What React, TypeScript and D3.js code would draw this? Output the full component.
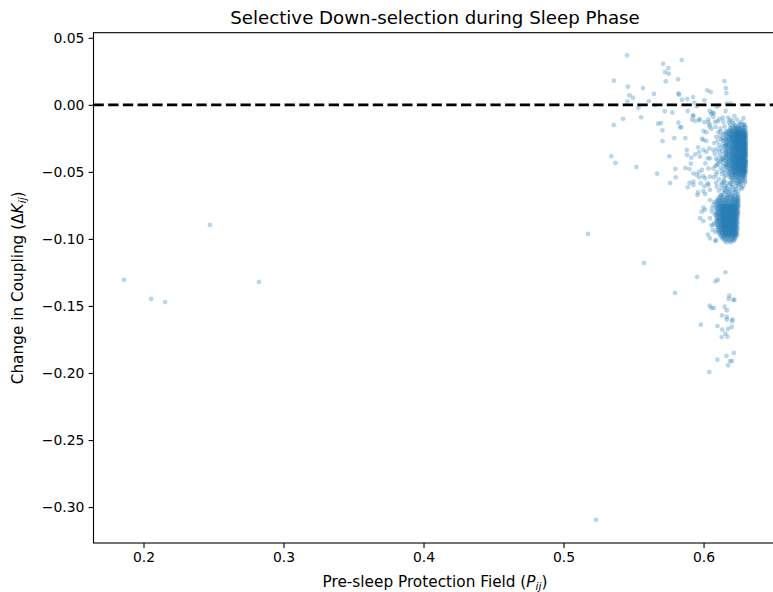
import React, { useEffect, useRef } from "react";
import * as d3 from "d3";

// Scatter: pre-sleep protection field vs change in coupling

// isolated points far from the main cloud
const outliers: [number, number][] = [
  [0.1861, -0.1306], [0.2054, -0.1448], [0.2154, -0.1471], [0.2475, -0.0896],
  [0.2825, -0.1321], [0.5175, -0.0963], [0.5232, -0.3096], [0.5575, -0.118],
  [0.5796, -0.1403],
];

// loose points around the zero line
const upperScatter: [number, number][] = [
  [0.5454, 0.0369], [0.5711, 0.0306], [0.5749, 0.0274], [0.5844, 0.0334],
  [0.5725, 0.0245], [0.5751, 0.0232], [0.5359, 0.018], [0.573, 0.0175],
  [0.5818, 0.019], [0.6149, 0.0177], [0.5459, 0.0135], [0.5568, 0.0125],
  [0.6159, 0.0125], [0.582, 0.0084], [0.5825, 0.0077], [0.6027, 0.0108],
  [0.6051, 0.0095], [0.6163, 0.0088], [0.5471, 0.0071], [0.5496, 0.0053],
  [0.5646, 0.0081], [0.5456, 0.0026], [0.5609, 0.0027], [0.5656, -0.0004],
  [0.5846, 0.0038], [0.5884, 0.0045], [0.5925, 0.0058], [0.6006, 0.0034],
  [0.5534, -0.0022], [0.5934, 0.0017], [0.5951, -0.001], [0.6104, -0.0004],
  [0.6094, -0.0014], [0.6166, 0.0008], [0.6194, 0.0008], [0.5723, -0.0048],
  [0.5777, -0.0057], [0.5887, -0.0046], [0.5924, -0.0078], [0.6044, -0.0046],
  [0.6063, -0.0056], [0.6073, -0.0063], [0.6054, -0.0071], [0.6157, -0.0046],
  [0.5425, -0.0104], [0.5554, -0.0093], [0.5973, -0.0106], [0.6034, -0.0108],
  [0.6113, -0.0106], [0.6137, -0.0096], [0.5359, -0.0151], [0.5675, -0.0141],
  [0.5696, -0.0136], [0.582, -0.0133], [0.5832, -0.0166], [0.5841, -0.0168],
  [0.5927, -0.0084], [0.5941, -0.0119], [0.5968, -0.0116], [0.6006, -0.013],
  [0.6034, -0.013], [0.6046, -0.0148], [0.6082, -0.0126], [0.6101, -0.0123],
  [0.6141, -0.0126], [0.618, -0.013], [0.6189, -0.0113], [0.6213, -0.0138],
  [0.5706, -0.019], [0.5791, -0.0248], [0.587, -0.0248], [0.5707, -0.027],
  [0.6001, -0.0195], [0.602, -0.0205], [0.5989, -0.0253], [0.602, -0.027],
  [0.6041, -0.0163], [0.6056, -0.018], [0.5999, -0.0262], [0.5961, -0.0317],
  [0.588, -0.0337], [0.5882, -0.0374], [0.5756, -0.0384], [0.5341, -0.0384],
  [0.537, -0.0434], [0.552, -0.0464], [0.5799, -0.0477], [0.5909, -0.0439],
  [0.587, -0.0471], [0.5899, -0.0479], [0.5941, -0.0369], [0.5968, -0.0352],
  [0.5999, -0.0337], [0.602, -0.035], [0.603, -0.0399], [0.6041, -0.0324],
  [0.607, -0.0337], [0.5975, -0.0387], [0.6013, -0.0436], [0.6034, -0.0474],
  [0.607, -0.0474], [0.6094, -0.0449], [0.6118, -0.0424], [0.6132, -0.0399],
  [0.6046, -0.0399], [0.5668, -0.0514], [0.5801, -0.0541], [0.5966, -0.0503],
  [0.5989, -0.0486], [0.597, -0.0541], [0.5999, -0.0531], [0.5927, -0.0511],
  [0.5951, -0.0523], [0.6011, -0.0548], [0.6046, -0.0536], [0.5761, -0.0583],
  [0.5899, -0.0583], [0.5927, -0.0598], [0.5887, -0.0615], [0.598, -0.0585],
  [0.6006, -0.0608], [0.603, -0.0585], [0.5961, -0.0652], [0.5999, -0.0643],
  [0.5927, -0.0573], [0.6034, -0.0598], [0.6046, -0.0635], [0.6094, -0.0611],
  [0.613, -0.0623], [0.6154, -0.0648], [0.5913, -0.0394], [0.5918, -0.0111],
  [0.607, -0.0089], [0.6261, -0.0175], [0.6225, -0.0175],
];

// medium-density edge of the upper cloud
const upperFringe: [number, number][] = [
  [0.6085, -0.0165], [0.612, -0.0178], [0.615, -0.016], [0.6105, -0.0205],
  [0.614, -0.022], [0.616, -0.0195], [0.609, -0.024], [0.6125, -0.0255],
  [0.6155, -0.027], [0.6075, -0.0285], [0.611, -0.03], [0.6145, -0.031],
  [0.6095, -0.033], [0.613, -0.0345], [0.616, -0.0355], [0.608, -0.0365],
  [0.6115, -0.038], [0.615, -0.0395], [0.61, -0.0415], [0.6135, -0.043],
  [0.616, -0.0445], [0.6085, -0.0455], [0.612, -0.047], [0.615, -0.0485],
  [0.6095, -0.05], [0.613, -0.0515], [0.616, -0.0525], [0.6075, -0.054],
  [0.611, -0.0555], [0.6145, -0.0565], [0.609, -0.058], [0.6125, -0.0595],
  [0.6155, -0.0605], [0.617, -0.062], [0.62, -0.06], [0.623, -0.061],
  [0.626, -0.0595], [0.6285, -0.0605], [0.6215, -0.0635], [0.625, -0.064],
  [0.618, -0.0655], [0.611, -0.064], [0.614, -0.066], [0.6275, -0.0625],
  [0.6135, -0.0585], [0.619, -0.059], [0.624, -0.0585], [0.616, -0.0645],
  [0.62, -0.0665], [0.623, -0.0655], [0.6125, -0.0675], [0.6185, -0.063],
  [0.6175, -0.0095], [0.6205, -0.012], [0.624, -0.011], [0.627, -0.013],
  [0.629, -0.0145], [0.6255, -0.014], [0.619, -0.015], [0.622, -0.0085],
  [0.6285, -0.01], [0.612, -0.02], [0.61, -0.027], [0.614, -0.029],
  [0.6125, -0.032], [0.609, -0.04], [0.614, -0.041], [0.6105, -0.044],
  [0.613, -0.049], [0.609, -0.052], [0.615, -0.054], [0.616, -0.03],
  [0.616, -0.038], [0.6155, -0.046], [0.6145, -0.025], [0.6295, -0.058],
  [0.6148, -0.0215], [0.6135, -0.0265], [0.6155, -0.0335], [0.614, -0.037],
  [0.6158, -0.0415], [0.6142, -0.0455], [0.615, -0.0505], [0.6128, -0.0405],
  [0.6118, -0.0235], [0.611, -0.035],
];

// points in the band between the two clouds
const midGap: [number, number][] = [
  [0.6145, -0.0575], [0.6172, -0.0582], [0.6205, -0.0612], [0.6248, -0.0602],
  [0.6268, -0.0615], [0.616, -0.061], [0.6188, -0.0645], [0.6222, -0.065],
  [0.6245, -0.0668], [0.615, -0.0632], [0.6176, -0.0672], [0.6208, -0.0685],
  [0.6232, -0.0628], [0.6198, -0.0578], [0.6262, -0.0575],
];

// dense core of the upper cloud, row by row: [deltaK, P values]
const upperCoreRows: [number, number[]][] = [
  [-0.015, [0.6225, 0.6262, 0.629]],
  [-0.0162, [0.6208, 0.6231, 0.6249, 0.6277, 0.6296]],
  [-0.0173, [0.6193, 0.6219, 0.624, 0.6255, 0.6281, 0.63]],
  [-0.0185, [0.6186, 0.6201, 0.6226, 0.6244, 0.6263, 0.6272, 0.6291]],
  [-0.0196, [0.6179, 0.6197, 0.6212, 0.6233, 0.6241, 0.6258, 0.6279, 0.6289, 0.6303]],
  [-0.0207, [0.6166, 0.6188, 0.6203, 0.6219, 0.6238, 0.625, 0.6266, 0.6284, 0.6298]],
  [-0.0219, [0.6172, 0.6181, 0.6209, 0.6224, 0.6231, 0.6253, 0.6271, 0.6279, 0.6294, 0.6304]],
  [-0.023, [0.6161, 0.6185, 0.6196, 0.6215, 0.6236, 0.6246, 0.6262, 0.6287, 0.63]],
  [-0.0241, [0.617, 0.619, 0.6204, 0.6227, 0.6241, 0.6257, 0.6268, 0.6283, 0.6297]],
  [-0.0252, [0.6158, 0.6178, 0.6199, 0.6211, 0.6233, 0.6249, 0.6264, 0.6276, 0.6292, 0.6303]],
  [-0.0264, [0.6166, 0.6183, 0.6206, 0.622, 0.6229, 0.6252, 0.6271, 0.6285, 0.6299]],
  [-0.0275, [0.6174, 0.6193, 0.6213, 0.6238, 0.6245, 0.626, 0.6279, 0.629, 0.6304]],
  [-0.0286, [0.6162, 0.6187, 0.6201, 0.6217, 0.6232, 0.6255, 0.6266, 0.6288, 0.6298]],
  [-0.0298, [0.6169, 0.6179, 0.6208, 0.6224, 0.6243, 0.6251, 0.6273, 0.6282, 0.6295, 0.6303]],
  [-0.0309, [0.6157, 0.6184, 0.6197, 0.6214, 0.6236, 0.6259, 0.6268, 0.6286, 0.63]],
  [-0.032, [0.6171, 0.619, 0.6211, 0.6228, 0.624, 0.6263, 0.6277, 0.6292, 0.6304]],
  [-0.0332, [0.6163, 0.6182, 0.6203, 0.6219, 0.6234, 0.6248, 0.627, 0.6283, 0.6297]],
  [-0.0343, [0.6176, 0.6195, 0.6209, 0.623, 0.6253, 0.6261, 0.628, 0.6294, 0.6302]],
  [-0.0354, [0.616, 0.6186, 0.6201, 0.6222, 0.6239, 0.6247, 0.6268, 0.6289, 0.6299]],
  [-0.0366, [0.6168, 0.618, 0.6207, 0.6215, 0.6237, 0.6256, 0.6274, 0.6285, 0.6303]],
  [-0.0377, [0.6173, 0.6193, 0.6212, 0.6227, 0.6244, 0.6262, 0.6279, 0.6293, 0.63]],
  [-0.0388, [0.6159, 0.6184, 0.6199, 0.6219, 0.6233, 0.6251, 0.627, 0.6287, 0.6304]],
  [-0.04, [0.6169, 0.619, 0.6206, 0.6225, 0.6242, 0.6258, 0.6266, 0.6282, 0.6297]],
  [-0.0411, [0.6177, 0.6196, 0.6213, 0.6231, 0.6249, 0.6263, 0.6278, 0.6291, 0.6302]],
  [-0.0422, [0.6164, 0.6186, 0.6202, 0.622, 0.6236, 0.6255, 0.6272, 0.6288, 0.63]],
  [-0.0434, [0.6172, 0.6192, 0.621, 0.6228, 0.6245, 0.6259, 0.6276, 0.6294, 0.6304]],
  [-0.0445, [0.6167, 0.6183, 0.6205, 0.6217, 0.6238, 0.6252, 0.6269, 0.6284, 0.6298]],
  [-0.0456, [0.6175, 0.6198, 0.6214, 0.6233, 0.6247, 0.6265, 0.6281, 0.6292, 0.6302]],
  [-0.0468, [0.617, 0.6189, 0.6207, 0.6224, 0.6241, 0.6258, 0.6273, 0.629, 0.63]],
  [-0.0479, [0.618, 0.6201, 0.6219, 0.6236, 0.6254, 0.6268, 0.6286, 0.6297]],
  [-0.049, [0.6174, 0.6194, 0.6212, 0.623, 0.6248, 0.6263, 0.6279, 0.6293, 0.6303]],
  [-0.0502, [0.6185, 0.6206, 0.6222, 0.6241, 0.6257, 0.6275, 0.6289, 0.63]],
  [-0.0513, [0.6179, 0.62, 0.6217, 0.6235, 0.6252, 0.627, 0.6284, 0.6296]],
  [-0.0524, [0.619, 0.6211, 0.6229, 0.6248, 0.6265, 0.6281, 0.6298]],
  [-0.0536, [0.6186, 0.6207, 0.6226, 0.6244, 0.6262, 0.6279, 0.6292]],
  [-0.0547, [0.6197, 0.6221, 0.624, 0.6259, 0.6276, 0.6294]],
  [-0.0558, [0.6204, 0.6233, 0.6255, 0.6283]],
  [-0.057, [0.6213, 0.6246, 0.6272, 0.6296]],
  [-0.0582, [0.6229, 0.6264]],
];

// darkest part of the upper cloud, between the rows above
const upperDenseRows: [number, number[]][] = [
  [-0.0202, [0.6215, 0.6243, 0.6262, 0.6288]],
  [-0.0225, [0.6198, 0.6221, 0.6249, 0.6268, 0.6291]],
  [-0.0247, [0.6203, 0.623, 0.6254, 0.6279, 0.6298]],
  [-0.027, [0.6197, 0.6225, 0.6244, 0.6266, 0.6289]],
  [-0.0292, [0.621, 0.6235, 0.6258, 0.6281, 0.63]],
  [-0.0315, [0.6201, 0.6222, 0.6248, 0.627, 0.6293]],
  [-0.0337, [0.6214, 0.6239, 0.6261, 0.6284, 0.6301]],
  [-0.036, [0.6196, 0.6227, 0.6251, 0.6273, 0.6295]],
  [-0.0383, [0.6206, 0.6233, 0.6257, 0.628, 0.6299]],
  [-0.0405, [0.6199, 0.6224, 0.6246, 0.6269, 0.6292]],
  [-0.0428, [0.6211, 0.6237, 0.626, 0.6283, 0.6301]],
  [-0.0451, [0.6204, 0.6229, 0.6253, 0.6276, 0.6296]],
  [-0.0474, [0.6213, 0.624, 0.6264, 0.6287]],
  [-0.0496, [0.622, 0.6247, 0.6271, 0.6293]],
  [-0.0519, [0.6228, 0.6258, 0.6284]],
  [-0.0213, [0.6232, 0.6257, 0.6281]],
  [-0.0236, [0.6226, 0.6252, 0.6276, 0.6296]],
  [-0.0258, [0.6237, 0.6262, 0.6287]],
  [-0.0281, [0.6228, 0.625, 0.6274, 0.6297]],
  [-0.0304, [0.6235, 0.6261, 0.6285]],
  [-0.0326, [0.6229, 0.6254, 0.6278, 0.6298]],
  [-0.0349, [0.624, 0.6265, 0.629]],
  [-0.0371, [0.6231, 0.6256, 0.6281, 0.63]],
  [-0.0394, [0.6238, 0.6262, 0.6287]],
  [-0.0417, [0.6227, 0.6252, 0.6276, 0.6297]],
  [-0.044, [0.6236, 0.626, 0.6285]],
  [-0.0462, [0.623, 0.6255, 0.6279, 0.6298]],
  [-0.0485, [0.6241, 0.6266, 0.6289]],
];

// points left of the lower cloud
const lowerFringe: [number, number][] = [
  [0.5956, -0.0673], [0.6011, -0.0665], [0.5999, -0.0767], [0.5987, -0.0797],
  [0.6011, -0.0784], [0.5975, -0.0846], [0.5999, -0.0867], [0.6046, -0.0996],
  [0.6089, -0.1008], [0.6046, -0.071], [0.607, -0.0747], [0.6059, -0.0797],
  [0.6046, -0.0846], [0.607, -0.0896], [0.6066, -0.0934], [0.6237, -0.071],
  [0.6249, -0.0747], [0.6075, -0.0725], [0.608, -0.082], [0.6078, -0.088],
  [0.6085, -0.095], [0.606, -0.077], [0.6055, -0.09],
];

// dense core of the lower cloud, row by row: [deltaK, P values]
const lowerCoreRows: [number, number[]][] = [
  [-0.0675, [0.6128, 0.6167, 0.6205, 0.6236]],
  [-0.0686, [0.6115, 0.6143, 0.6172, 0.619, 0.6221, 0.6247]],
  [-0.0698, [0.6107, 0.6129, 0.6152, 0.6165, 0.6188, 0.6213, 0.6232, 0.6249]],
  [-0.0709, [0.6099, 0.6121, 0.6138, 0.616, 0.6177, 0.6199, 0.6208, 0.6227, 0.6243]],
  [-0.072, [0.6093, 0.6112, 0.6131, 0.6146, 0.6169, 0.6185, 0.6204, 0.6219, 0.6238, 0.6251]],
  [-0.0731, [0.6102, 0.6118, 0.614, 0.6155, 0.6174, 0.6193, 0.6211, 0.623, 0.6245]],
  [-0.0742, [0.609, 0.6109, 0.6126, 0.6149, 0.6163, 0.6182, 0.62, 0.6216, 0.6225, 0.6242]],
  [-0.0754, [0.6097, 0.6115, 0.6135, 0.6144, 0.617, 0.6188, 0.6207, 0.6223, 0.6248]],
  [-0.0765, [0.6088, 0.6105, 0.6124, 0.6141, 0.6158, 0.6177, 0.6196, 0.6213, 0.6234, 0.6245]],
  [-0.0776, [0.6094, 0.6111, 0.613, 0.6152, 0.6165, 0.6184, 0.6202, 0.6221, 0.6239]],
  [-0.0787, [0.61, 0.6119, 0.6137, 0.6146, 0.6172, 0.6191, 0.6209, 0.6228, 0.6244]],
  [-0.0799, [0.6089, 0.6106, 0.6126, 0.6143, 0.6161, 0.618, 0.6197, 0.6216, 0.6233, 0.6249]],
  [-0.081, [0.6096, 0.6114, 0.6133, 0.6154, 0.6168, 0.6186, 0.6205, 0.6222, 0.624]],
  [-0.0821, [0.6091, 0.6108, 0.6122, 0.614, 0.6159, 0.6176, 0.6194, 0.6211, 0.6229, 0.6246]],
  [-0.0832, [0.6101, 0.6117, 0.6135, 0.6148, 0.6166, 0.6183, 0.6201, 0.6219, 0.6236]],
  [-0.0844, [0.6093, 0.6112, 0.6129, 0.6145, 0.6162, 0.6179, 0.6198, 0.6214, 0.6232, 0.6243]],
  [-0.0855, [0.6098, 0.6105, 0.6124, 0.6139, 0.6157, 0.6171, 0.619, 0.6207, 0.6225, 0.6239]],
  [-0.0866, [0.6092, 0.611, 0.6131, 0.615, 0.6168, 0.6185, 0.6203, 0.622, 0.6237]],
  [-0.0877, [0.61, 0.6118, 0.6136, 0.6155, 0.6174, 0.6192, 0.621, 0.6228, 0.6244]],
  [-0.0889, [0.6095, 0.6113, 0.6127, 0.6146, 0.6164, 0.6181, 0.6199, 0.6217, 0.6234]],
  [-0.09, [0.6103, 0.6121, 0.614, 0.6159, 0.617, 0.6189, 0.6206, 0.6224, 0.624]],
  [-0.0911, [0.6098, 0.6116, 0.6133, 0.6151, 0.6167, 0.6185, 0.6202, 0.6219, 0.6236]],
  [-0.0922, [0.6106, 0.6125, 0.6143, 0.616, 0.6178, 0.6196, 0.6212, 0.6231, 0.6243]],
  [-0.0934, [0.6101, 0.6119, 0.6136, 0.6154, 0.6173, 0.6191, 0.6208, 0.6225, 0.6239]],
  [-0.0945, [0.6109, 0.6128, 0.6147, 0.6163, 0.6181, 0.6199, 0.6216, 0.6233]],
  [-0.0956, [0.6113, 0.6131, 0.615, 0.6168, 0.6186, 0.6204, 0.6221, 0.6237]],
  [-0.0968, [0.6118, 0.6137, 0.6156, 0.6174, 0.6192, 0.621, 0.6228, 0.6241]],
  [-0.0979, [0.6124, 0.6144, 0.6162, 0.6181, 0.6199, 0.6217, 0.6233]],
  [-0.099, [0.6131, 0.6151, 0.6171, 0.619, 0.6209, 0.6226]],
  [-0.1002, [0.614, 0.6163, 0.6184, 0.6205, 0.6222]],
  [-0.1013, [0.615, 0.6177, 0.6201, 0.6218]],
  [-0.1025, [0.6164, 0.6193]],
];

// darkest part of the lower cloud, between the rows above
const lowerDenseRows: [number, number[]][] = [
  [-0.0748, [0.6125, 0.6152, 0.6178, 0.6201, 0.6226]],
  [-0.0771, [0.6118, 0.6146, 0.6171, 0.6195, 0.6219, 0.6237]],
  [-0.0794, [0.613, 0.6157, 0.6183, 0.6208, 0.6229]],
  [-0.0816, [0.6121, 0.6149, 0.6175, 0.6198, 0.6222, 0.624]],
  [-0.0839, [0.6134, 0.616, 0.6186, 0.6211, 0.6231]],
  [-0.0861, [0.6124, 0.6151, 0.6178, 0.6203, 0.6226]],
  [-0.0884, [0.6137, 0.6163, 0.6189, 0.6214, 0.6234]],
  [-0.0906, [0.6128, 0.6155, 0.6181, 0.6206, 0.6229]],
  [-0.0929, [0.614, 0.6167, 0.6193, 0.6218]],
  [-0.0951, [0.6133, 0.616, 0.6186, 0.6212, 0.6232]],
  [-0.0974, [0.6146, 0.6174, 0.62, 0.6224]],
  [-0.076, [0.6139, 0.6165, 0.619, 0.6214]],
  [-0.0782, [0.6133, 0.616, 0.6186, 0.621, 0.6229]],
  [-0.0805, [0.6142, 0.6169, 0.6193, 0.6217]],
  [-0.0828, [0.6137, 0.6164, 0.619, 0.6214]],
  [-0.085, [0.6146, 0.6172, 0.6197, 0.622]],
  [-0.0873, [0.614, 0.6166, 0.6193, 0.6217]],
  [-0.0895, [0.6148, 0.6174, 0.6199, 0.6222]],
  [-0.0918, [0.6143, 0.617, 0.6195, 0.6219]],
  [-0.094, [0.6151, 0.6178, 0.6204]],
  [-0.0962, [0.6158, 0.6184, 0.6208]],
];

// sparse tail below the lower cloud
const lowerTail: [number, number][] = [
  [0.6032, -0.0969], [0.6084, -0.1016], [0.5954, -0.1284], [0.6156, -0.1249],
  [0.6084, -0.1316], [0.6101, -0.1306], [0.6184, -0.1424], [0.618, -0.1448],
  [0.6213, -0.1456], [0.622, -0.1453], [0.6044, -0.1498], [0.6056, -0.1515],
  [0.6073, -0.1515], [0.6151, -0.1506], [0.6166, -0.1532], [0.6132, -0.157],
  [0.6166, -0.1582], [0.6166, -0.1603], [0.6206, -0.16], [0.6204, -0.1614],
  [0.598, -0.164], [0.6099, -0.165], [0.6134, -0.1677], [0.6175, -0.1672],
  [0.6201, -0.1657], [0.6156, -0.1707], [0.617, -0.1729], [0.613, -0.1732],
  [0.6163, -0.1873], [0.6216, -0.1851], [0.6099, -0.1901], [0.6204, -0.1911],
  [0.6189, -0.1911], [0.6175, -0.1943], [0.6041, -0.1993],
];

const xTicks = [0.2, 0.3, 0.4, 0.5, 0.6];
const yTicks = [0.05, 0.0, -0.05, -0.1, -0.15, -0.2, -0.25, -0.3];

const FONT = "DejaVu Sans, sans-serif";

const unrow = (rows: [number, number[]][]) =>
  rows.flatMap(([dk, ps]) => ps.map((p) => [p, dk] as [number, number]));

export default function App() {
  const ref = useRef<SVGSVGElement>(null);

  useEffect(() => {
    document.body.style.margin = "0";
    const svg = d3.select(ref.current);
    svg.selectAll("*").remove();

    const left = 93.5, right = 776.5, top = 32.7, bottom = 543;
    const x = d3.scaleLinear().domain([0.16429, 0.6521]).range([left, right]);
    const y = d3.scaleLinear().domain([-0.3268, 0.0538]).range([bottom, top]);

    const points = [
      ...outliers, ...upperScatter, ...upperFringe, ...midGap,
      ...unrow(upperCoreRows), ...unrow(upperDenseRows),
      ...lowerFringe, ...unrow(lowerCoreRows), ...unrow(lowerDenseRows),
      ...lowerTail,
    ];

    svg.append("defs").append("clipPath").attr("id", "plotclip")
      .append("rect").attr("x", left).attr("y", top)
      .attr("width", right - left).attr("height", bottom - top);

    svg.append("g").attr("clip-path", "url(#plotclip)")
      .selectAll("circle")
      .data(points)
      .join("circle")
      .attr("cx", (d) => x(d[0]))
      .attr("cy", (d) => y(d[1]))
      .attr("r", 2.4)
      .attr("fill", "#1f77b4")
      .attr("fill-opacity", 0.3);

    // zero reference line
    svg.append("line")
      .attr("x1", left).attr("x2", right)
      .attr("y1", y(0)).attr("y2", y(0))
      .attr("stroke", "black")
      .attr("stroke-width", 2.6)
      .attr("stroke-dasharray", "10.3 4.4");

    // axes
    const yAxis = svg.append("g").attr("transform", `translate(${left},0)`)
      .call(d3.axisLeft(y).tickValues(yTicks).tickFormat(d3.format(".2f"))
        .tickSize(4.9).tickPadding(4.2).tickSizeOuter(0));
    const xAxis = svg.append("g").attr("transform", `translate(0,${bottom})`)
      .call(d3.axisBottom(x).tickValues(xTicks).tickFormat(d3.format(".1f"))
        .tickSize(4.9).tickPadding(4.2).tickSizeOuter(0));
    [yAxis, xAxis].forEach((g) => {
      g.select(".domain").remove();
      g.selectAll("line").attr("stroke", "black").attr("stroke-width", 1.1);
      g.selectAll("text").attr("fill", "black")
        .attr("font-family", FONT).attr("font-size", 13.9);
    });

    // spines
    svg.append("rect")
      .attr("x", left).attr("y", top)
      .attr("width", right - left).attr("height", bottom - top)
      .attr("fill", "none").attr("stroke", "black").attr("stroke-width", 1.1);

    svg.append("text")
      .attr("x", (left + right) / 2).attr("y", 23.5)
      .attr("text-anchor", "middle")
      .attr("font-family", FONT).attr("font-size", 18.2)
      .text("Selective Down-selection during Sleep Phase");

    const xl = svg.append("text")
      .attr("x", (left + right) / 2).attr("y", 586.5)
      .attr("text-anchor", "middle")
      .attr("font-family", FONT).attr("font-size", 15.3);
    xl.append("tspan").text("Pre-sleep Protection Field (");
    xl.append("tspan").attr("font-style", "italic").text("P");
    xl.append("tspan").attr("font-style", "italic").attr("font-size", 10.7).attr("dy", 3.3).text("ij");
    xl.append("tspan").attr("dy", -3.3).text(")");

    const yl = svg.append("text")
      .attr("transform", "rotate(-90)")
      .attr("x", -(top + bottom) / 2).attr("y", 23)
      .attr("text-anchor", "middle")
      .attr("font-family", FONT).attr("font-size", 15.3);
    yl.append("tspan").text("Change in Coupling (\u0394");
    yl.append("tspan").attr("font-style", "italic").text("K");
    yl.append("tspan").attr("font-style", "italic").attr("font-size", 10.7).attr("dy", 3.3).text("ij");
    yl.append("tspan").attr("dy", -3.3).text(")");
  }, []);

  return <svg ref={ref} width={773} height={592} style={{ display: "block" }} />;
}
